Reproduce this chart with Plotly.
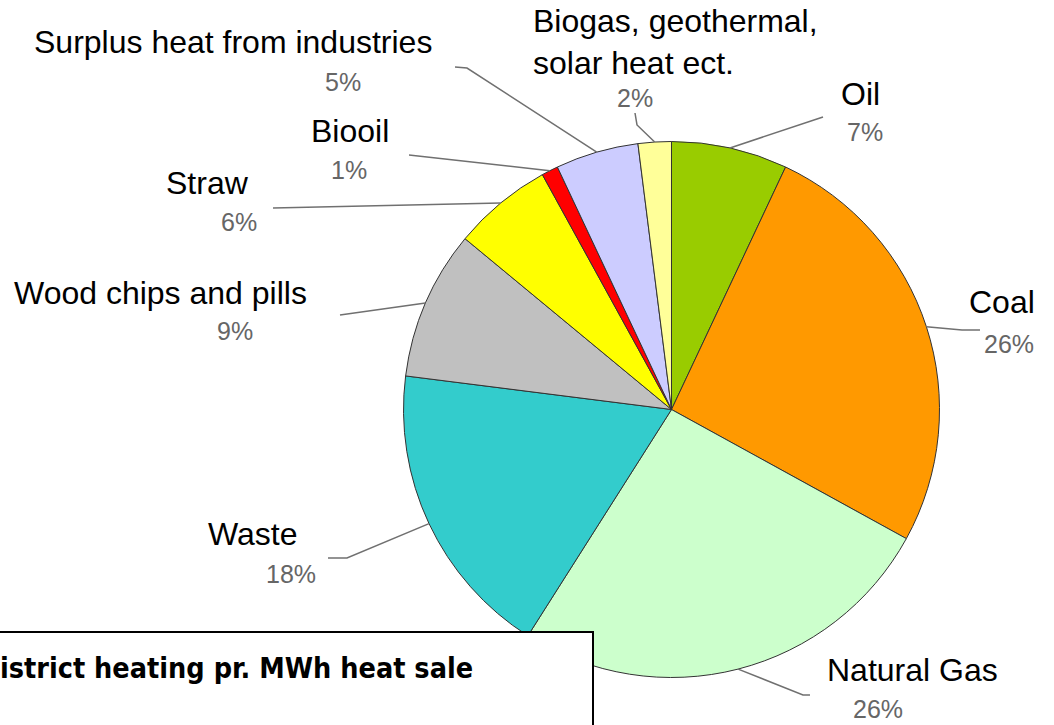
import math
import plotly.graph_objects as go

# ---------------- data ----------------
categories = ["Oil", "Coal", "Natural Gas", "Waste", "Wood chips and pills",
              "Straw", "Biooil", "Surplus heat from industries",
              "Biogas, geothermal, solar heat ect."]
shares = [7, 26, 26, 18, 9, 6, 1, 5, 2]
colors = ["#99CC00", "#FF9900", "#CCFFCC", "#33CCCC", "#C0C0C0",
          "#FFFF00", "#FF0000", "#CCCCFF", "#FFFF99"]
title_text = "istrict heating pr. MWh heat sale"

# ---------------- layout (pixels) ----------------
W, H = 1054, 725
CX, CY, R = 671.5, 409.5, 268


def px(x):
    return x / W


def py(y):
    return 1 - y / H


# label placement: name centre, percent centre, leader points after the slice tip
placement = {
    "Oil": dict(name=(860, 94), pct=(865, 132), path=[(823, 117)]),
    "Coal": dict(name=(1002, 302), pct=(1009, 344), path=[(962, 330), (980, 330)]),
    "Natural Gas": dict(name=(912, 670), pct=(878, 709), path=[(803, 695), (810, 695)]),
    "Waste": dict(name=(253, 534), pct=(291, 574), path=[(347, 558), (328, 558)]),
    "Wood chips and pills": dict(name=(160, 293), pct=(235, 331), path=[(340, 315)]),
    "Straw": dict(name=(207, 183), pct=(239, 222), path=[(273, 208)]),
    "Biooil": dict(name=(350, 131), pct=(349, 170), path=[(409, 155)]),
    "Surplus heat from industries": dict(name=(233, 42), pct=(343, 82),
                                         path=[(467, 68), (455, 67)]),
    "Biogas, geothermal, solar heat ect.": dict(name=(531, 42), pct=(635, 98),
                                                path=[(637, 125), (635, 113)],
                                                left=True),
}

fig = go.Figure()
fig.add_trace(go.Pie(
    labels=categories,
    values=shares,
    sort=False,
    direction="clockwise",
    rotation=0,
    marker=dict(colors=colors, line=dict(color="#333333", width=1)),
    textinfo="none",
    hoverinfo="label+percent",
    showlegend=False,
    domain=dict(x=[px(CX - R), px(CX + R)], y=[py(CY + R), py(CY - R)]),
))

annotations = []
shapes = []
total = float(sum(shares))
cum = 0.0
name_font = dict(family="Arial, Liberation Sans, sans-serif", size=32, color="#000000")
pct_font = dict(family="Arial, Liberation Sans, sans-serif", size=25, color="#666666")

for cat, val in zip(categories, shares):
    mid = (cum + val / 2.0) / total
    cum += val
    theta = 2 * math.pi * mid
    tip = (CX + R * math.sin(theta), CY - R * math.cos(theta))
    p = placement[cat]
    pts = [tip] + p["path"]
    d = "M " + " L ".join(f"{px(x):.5f},{py(y):.5f}" for x, y in pts)
    shapes.append(dict(type="path", path=d, xref="paper", yref="paper",
                       line=dict(color="#707070", width=1.5), layer="above"))
    text = cat.replace("geothermal, ", "geothermal,<br>")
    left = p.get("left", False)
    annotations.append(dict(
        text=text, x=px(p["name"][0]), y=py(p["name"][1]), xref="paper", yref="paper",
        xanchor="left" if left else "center", yanchor="middle", align="left",
        showarrow=False, font=name_font))
    annotations.append(dict(
        text=f"{val}%", x=px(p["pct"][0]), y=py(p["pct"][1]), xref="paper", yref="paper",
        xanchor="center", yanchor="middle", showarrow=False, font=pct_font))

# title box (partially cut off in the reference)
shapes.append(dict(type="rect", xref="paper", yref="paper",
                   x0=px(-6), x1=px(593), y0=py(760), y1=py(632),
                   line=dict(color="#000000", width=2), fillcolor="#FFFFFF",
                   layer="above"))
annotations.append(dict(
    text=f"<b>{title_text}</b>", x=px(-2), y=py(668), xref="paper", yref="paper",
    xanchor="left", yanchor="middle", showarrow=False,
    font=dict(family="DejaVu Sans Condensed, DejaVu Sans, sans-serif", size=28.5,
              color="#000000")))

fig.update_layout(
    width=W, height=H,
    margin=dict(l=0, r=0, t=0, b=0),
    paper_bgcolor="#FFFFFF",
    plot_bgcolor="#FFFFFF",
    annotations=annotations,
    shapes=shapes,
)

fig.write_html("out.html",
               config={"displayModeBar": False},
               post_script="document.body.style.margin='0';"
                           "document.body.style.overflow='hidden';")
